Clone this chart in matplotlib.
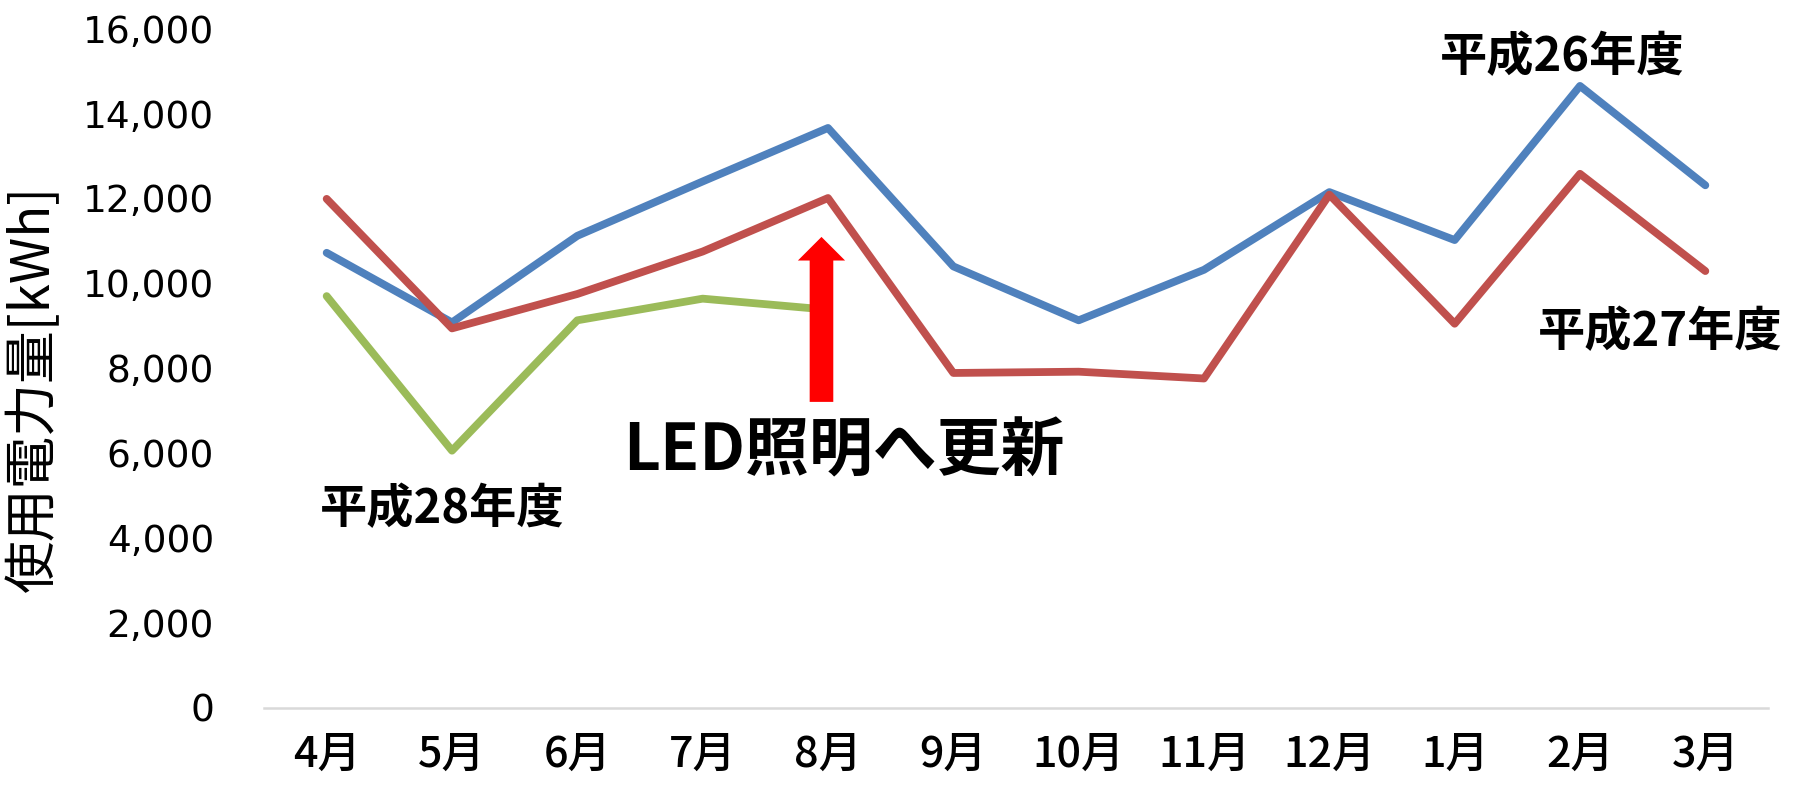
import matplotlib
matplotlib.use('Agg')
import matplotlib.pyplot as plt
from matplotlib.patches import FancyArrowPatch

plt.rcParams['font.family'] = ['Noto Sans CJK JP', 'DejaVu Sans']

months = ['4月', '5月', '6月', '7月', '8月', '9月', '10月', '11月', '12月', '1月', '2月', '3月']
h26 = [10720, 9080, 11120, 12400, 13660, 10400, 9130, 10320, 12150, 11020, 14650, 12310]
h27 = [11990, 8940, 9750, 10750, 12010, 7890, 7920, 7760, 12090, 9050, 12580, 10290]
h28 = [9700, 6060, 9130, 9640, 9380]
yticks = list(range(0, 16001, 2000))

W, H = 1794, 791
fig = plt.figure(figsize=(W / 100, H / 100), dpi=100)
ax = fig.add_axes([264 / W, 1 - 708 / H, (1768 - 264) / W, (708 - 28.6) / H])

x26 = list(range(len(h26)))
x28 = list(range(len(h28)))
kw = dict(lw=5.6, solid_capstyle='round', solid_joinstyle='round')
ax.plot(x26, h26, color='#4F81BD', zorder=3, **kw)
ax.plot(x26, h27, color='#C0504D', zorder=3, **kw)
ax.plot(x28, h28, color='#9BBB59', zorder=3, **kw)

arrow = FancyArrowPatch((3.948, 7209), (3.948, 11094),
                        arrowstyle='simple,head_length=17,head_width=34,tail_width=17',
                        mutation_scale=1, color='#FF0000', lw=0,
                        shrinkA=0, shrinkB=0, zorder=5)
ax.add_patch(arrow)

ax.set_xlim(-0.5, len(months) - 0.5)
ax.set_ylim(0, 16000)
ax.set_xticks(x26)
ax.set_xticklabels(months, fontsize=31, fontweight='medium')
ax.set_yticks(yticks)
ax.set_yticklabels([f'{v:,}' for v in yticks], fontsize=27, family='DejaVu Sans')
ax.tick_params(axis='y', length=0, pad=36)
ax.tick_params(axis='x', length=0, pad=18)
for s in ['top', 'right', 'left']:
    ax.spines[s].set_visible(False)
ax.spines['bottom'].set_color('#D9D9D9')
ax.spines['bottom'].set_linewidth(1.8)

fig.text(34 / W, 1 - 388 / H, '使用電力量[kWh]', rotation=90, ha='center', va='center', fontsize=38)

tk = dict(ha='center', va='center', fontweight='bold', color='black')
fig.text(844 / W, 1 - 452 / H, 'LED照明へ更新', fontsize=46, **tk)
fig.text(442 / W, 1 - 509 / H, '平成28年度', fontsize=34, **tk)
fig.text(1562 / W, 1 - 57 / H, '平成26年度', fontsize=34, **tk)
fig.text(1660 / W, 1 - 332 / H, '平成27年度', fontsize=34, **tk)

fig.savefig('out.png', dpi=100)
